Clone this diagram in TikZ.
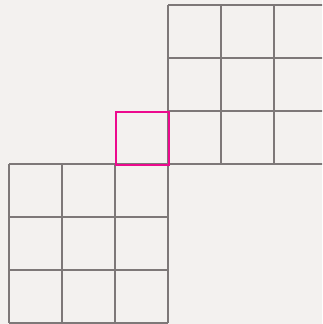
\documentclass[tikz,border=0pt]{standalone}
\definecolor{bg}{HTML}{F3F1EF}
\definecolor{gridgray}{HTML}{7D7878}
\definecolor{mag}{HTML}{EC0A8E}
\tikzset{gridline/.style={draw=gridgray,line width=2pt},
         hilite/.style={draw=mag,line width=2pt}}
\begin{document}
\begin{tikzpicture}[x=1pt,y=-1pt]
\fill[bg] (0,0) rectangle (322,324);
\useasboundingbox (0,0) rectangle (322,324);
\clip (0,0) rectangle (322,324);
% upper-right grid
\foreach \x in {168,221,274,327} \draw[gridline] (\x,5) -- (\x,164);
\foreach \y in {5,58,111,164} \draw[gridline] (168,\y) -- (327,\y);
% lower-left grid
\foreach \x in {9,62,115,168} \draw[gridline] (\x,164) -- (\x,322.5);
\foreach \y in {164,217,270,322.5} \draw[gridline] (9,\y) -- (168,\y);
% highlighted cell
\node[hilite,minimum size=53pt,inner sep=0pt,anchor=north west] (cell) at (115,111) {};
\end{tikzpicture}
\end{document}
